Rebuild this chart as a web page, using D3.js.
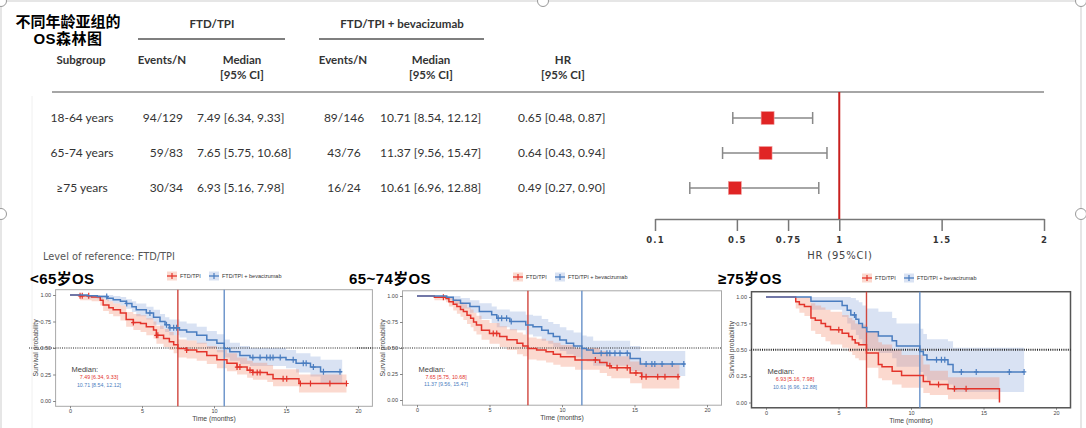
<!DOCTYPE html>
<html><head><meta charset="utf-8">
<script src="https://cdn.jsdelivr.net/npm/d3@7"></script>
<style>body{margin:0;background:#fff;}svg{display:block;}</style>
</head><body>
<svg id="chart" width="1086" height="428"></svg>
<script>
// ===================== DATA =====================
const subgroups   = ["18-64 years", "65-74 years", "≥75 years"];
const eventsFtd   = ["94/129", "59/83", "30/34"];
const medianFtd   = ["7.49 [6.34, 9.33]", "7.65 [5.75, 10.68]", "6.93 [5.16, 7.98]"];
const eventsBev   = ["89/146", "43/76", "16/24"];
const medianBev   = ["10.71 [8.54, 12.12]", "11.37 [9.56, 15.47]", "10.61 [6.96, 12.88]"];
const hrText      = ["0.65 [0.48, 0.87]", "0.64 [0.43, 0.94]", "0.49 [0.27, 0.90]"];
const hrEst       = [0.65, 0.64, 0.49];
const hrLow       = [0.48, 0.43, 0.27];
const hrHigh      = [0.87, 0.94, 0.90];
const hrTicks     = [0.1, 0.5, 0.75, 1, 1.5, 2];
const hrTickLabels= ["0.1", "0.5", "0.75", "1", "1.5", "2"];

const kmTitles    = ["<65岁OS", "65~74岁OS", "≥75岁OS"];
const armLabels   = ["FTD/TPI", "FTD/TPI + bevacizumab"];
const kmXTicks    = [0, 5, 10, 15, 20];
const kmYTicks    = [0, 0.25, 0.5, 0.75, 1];
const medianFtdMonths = [7.49, 7.65, 6.93];
const medianBevMonths = [10.71, 11.37, 10.61];

// KM steps: [time (months), survival, lower 95% CI, upper 95% CI]
const km1Ftd = [
 [0,1,1,1],[0.7,0.992,0.95,1],[1.5,0.98,0.94,1],[2.1,0.95,0.90,0.99],[2.3,0.905,0.85,0.96],
 [2.7,0.88,0.82,0.94],[3.0,0.86,0.80,0.92],[3.5,0.83,0.76,0.90],[3.9,0.77,0.70,0.84],
 [4.4,0.74,0.67,0.82],[4.9,0.73,0.65,0.81],[5.3,0.70,0.62,0.78],[5.8,0.67,0.59,0.75],
 [6.0,0.62,0.54,0.71],[6.5,0.59,0.51,0.68],[6.9,0.56,0.48,0.65],[7.2,0.53,0.45,0.62],
 [7.49,0.495,0.41,0.58],[8.1,0.48,0.40,0.57],[8.8,0.465,0.38,0.55],[9.5,0.43,0.35,0.52],
 [10.2,0.39,0.31,0.48],[10.9,0.355,0.28,0.45],[11.6,0.32,0.25,0.41],[12.3,0.29,0.22,0.38],
 [12.7,0.27,0.20,0.36],[13.7,0.25,0.18,0.34],[14.1,0.21,0.14,0.30],[15.9,0.165,0.08,0.25],
 [19.2,0.165,0.08,0.25]];
const km1FtdCensor = [0.7,0.85,1.3,4.4,6.0,6.1,8.1,11.6,11.8,12.5,12.7,13.0,13.2,14.8,15.05,16.0,16.7,18.05,19.2];
const km1Bev = [
 [0,1,1,1],[1.2,0.993,0.97,1],[1.9,0.985,0.96,1],[2.6,0.97,0.94,1],[3.0,0.955,0.92,0.99],
 [3.5,0.94,0.90,0.98],[3.9,0.92,0.87,0.96],[4.3,0.89,0.84,0.94],[4.6,0.86,0.80,0.92],
 [5.3,0.83,0.77,0.89],[5.8,0.79,0.72,0.86],[6.25,0.75,0.68,0.82],[6.6,0.72,0.65,0.79],
 [6.9,0.69,0.62,0.77],[7.6,0.67,0.60,0.75],[8.1,0.65,0.57,0.73],[8.8,0.62,0.54,0.70],
 [9.5,0.575,0.50,0.66],[10.2,0.545,0.46,0.63],[10.71,0.495,0.41,0.58],[11.1,0.465,0.38,0.55],
 [11.8,0.43,0.35,0.52],[12.5,0.41,0.33,0.50],[15.0,0.39,0.31,0.48],[15.7,0.355,0.27,0.45],
 [16.7,0.32,0.23,0.42],[17.4,0.277,0.17,0.39],[18.9,0.277,0.17,0.39]];
const km1BevCensor = [2.55,3.94,5.55,6.7,6.94,7.2,7.4,12.7,13.2,13.66,13.9,14.1,14.6,15.5,16.2,16.4,16.9,17.6,18.75];

const km2Ftd = [
 [0,1,1,1],[1.2,0.987,0.96,1],[2.0,0.975,0.94,1],[2.2,0.945,0.90,0.99],[2.5,0.92,0.86,0.97],
 [2.75,0.90,0.83,0.96],[3.0,0.87,0.80,0.94],[3.2,0.85,0.77,0.92],[3.45,0.815,0.73,0.89],
 [3.7,0.785,0.70,0.87],[3.9,0.75,0.66,0.84],[4.1,0.72,0.63,0.81],[4.45,0.67,0.58,0.77],
 [5.0,0.64,0.54,0.74],[5.7,0.61,0.51,0.71],[6.2,0.58,0.48,0.68],[6.9,0.545,0.44,0.65],
 [7.3,0.52,0.42,0.63],[7.65,0.495,0.39,0.60],[8.25,0.48,0.38,0.59],[8.9,0.465,0.36,0.57],
 [9.4,0.44,0.34,0.55],[9.9,0.417,0.32,0.53],[10.9,0.385,0.29,0.50],[12.6,0.36,0.26,0.47],
 [13.1,0.33,0.23,0.44],[13.4,0.31,0.21,0.42],[14.7,0.26,0.16,0.37],[15.5,0.224,0.11,0.34],
 [18.1,0.224,0.11,0.34]];
const km2FtdCensor = [1.82,5.26,5.5,12.3,13.3,13.8,14.5,15.1,15.5,15.8,16.6,17.1,18.0];
const km2Bev = [
 [0,1,1,1],[2.05,0.987,0.96,1],[2.5,0.96,0.92,1],[3.0,0.93,0.88,0.98],[3.65,0.90,0.84,0.96],
 [4.3,0.85,0.78,0.93],[5.15,0.82,0.74,0.90],[5.5,0.785,0.70,0.87],[6.4,0.755,0.67,0.85],
 [7.5,0.72,0.63,0.82],[8.0,0.705,0.61,0.81],[8.6,0.67,0.57,0.78],[9.05,0.64,0.54,0.75],
 [9.4,0.61,0.51,0.73],[9.85,0.577,0.47,0.70],[10.3,0.545,0.44,0.67],[10.8,0.52,0.41,0.65],
 [11.37,0.495,0.39,0.62],[11.7,0.48,0.37,0.61],[12.15,0.45,0.33,0.57],[14.7,0.40,0.28,0.52],
 [15.4,0.346,0.23,0.47],[18.5,0.346,0.23,0.47]];
const km2BevCensor = [5.6,5.84,6.18,6.5,12.7,13.1,13.3,13.65,14.0,14.5,15.8,16.2,16.4,16.9,17.6,18.4];

const km3Ftd = [
 [0,1,1,1],[2.05,0.956,0.89,1],[2.3,0.93,0.85,1],[2.65,0.909,0.82,1],[3.1,0.80,0.68,0.94],
 [3.4,0.78,0.65,0.92],[3.8,0.75,0.62,0.90],[4.1,0.72,0.58,0.88],[4.45,0.69,0.55,0.86],
 [5.25,0.657,0.52,0.83],[5.7,0.626,0.48,0.80],[5.95,0.594,0.45,0.78],[6.15,0.563,0.42,0.75],
 [6.4,0.547,0.40,0.74],[6.93,0.47,0.33,0.67],[7.75,0.36,0.23,0.57],[8.0,0.34,0.21,0.55],
 [8.7,0.296,0.17,0.50],[9.35,0.255,0.14,0.45],[10.85,0.20,0.09,0.36],[11.3,0.17,0.07,0.30],
 [12.55,0.13,0.03,0.24],[16.1,0,0,0]];
const km3FtdCensor = [5.02,11.9,13.0,13.8];
const km3Bev = [
 [0,1,1,1],[3.1,0.96,0.88,1],[5.25,0.92,0.81,1],[5.6,0.875,0.75,1],[5.85,0.83,0.69,0.99],
 [6.2,0.79,0.64,0.97],[6.4,0.75,0.60,0.95],[6.65,0.71,0.55,0.92],[6.95,0.67,0.51,0.89],
 [7.75,0.63,0.47,0.86],[8.7,0.585,0.42,0.80],[9.0,0.535,0.34,0.75],[10.61,0.484,0.29,0.70],
 [10.85,0.45,0.25,0.65],[11.1,0.405,0.21,0.60],[12.55,0.36,0.17,0.58],[12.9,0.29,0.10,0.52],
 [17.8,0.29,0.10,0.52]];
const km3BevCensor = [6.1,11.76,12.1,12.33,13.47,14.5,16.78,17.8];

// ===================== LAYOUT / STYLE =====================
const RED = "#E3342B", BLUE = "#4A7DC0";
const RED_BAND = "rgba(242,140,110,0.33)", BLUE_BAND = "rgba(130,160,215,0.30)";
const TABLE_FONT = "Lato, 'Open Sans', sans-serif";
const KM_FONT = "'Liberation Sans', Arial, sans-serif";
const TITLE_FONT = "'Liberation Sans', 'Noto Sans CJK SC', sans-serif";

const svg = d3.select("#chart");

// outer frame & handles
svg.append("rect").attr("x",1).attr("y",1).attr("width",1080).attr("height",470)
  .attr("rx",6).attr("fill","none").attr("stroke","#cdcdcd").attr("stroke-width",1);
svg.append("line").attr("x1",32).attr("x2",32).attr("y1",96).attr("y2",428)
  .attr("stroke","#f0f0f0").attr("stroke-width",1);
[[1,1],[543,1],[1081,1],[1,214],[1081,214]].forEach(p=>{
  svg.append("circle").attr("cx",p[0]).attr("cy",p[1]).attr("r",5.5)
    .attr("fill","#fff").attr("stroke","#999").attr("stroke-width",1);
});

// ---------- Chinese title ----------
const tt = svg.append("text").attr("font-family",TITLE_FONT)
  .attr("font-weight","bold").attr("font-size",15).attr("fill","#000").attr("text-anchor","middle");
tt.append("tspan").attr("x",68).attr("y",27).text("不同年龄亚组的");
tt.append("tspan").attr("x",68).attr("y",44).attr("letter-spacing",0.5).text("OS森林图");

// ---------- table header ----------
function txt(x,y,s,opt={}){
  return svg.append("text").attr("x",x).attr("y",y).text(s)
    .attr("font-family",TABLE_FONT).attr("font-size",opt.size||12)
    .attr("font-weight",opt.weight||"normal").attr("fill",opt.fill||"#333")
    .attr("text-anchor",opt.anchor||"start");
}
const H = {weight:"bold", size:11.5, anchor:"middle", fill:"#333"};
txt(212,28,"FTD/TPI",H);
txt(402,28,"FTD/TPI + bevacizumab",H);
svg.append("line").attr("x1",138).attr("x2",285).attr("y1",39).attr("y2",39).attr("stroke","#555").attr("stroke-width",1.5);
svg.append("line").attr("x1",319).attr("x2",484).attr("y1",39).attr("y2",39).attr("stroke","#555").attr("stroke-width",1.5);
txt(81,64,"Subgroup",H);
txt(162,64,"Events/N",H);
txt(242,64,"Median",H);  txt(242,79,"[95% CI]",H);
txt(343,64,"Events/N",H);
txt(431,64,"Median",H);  txt(431,79,"[95% CI]",H);
txt(563,64,"HR",H);      txt(563,79,"[95% CI]",H);
svg.append("line").attr("x1",52).attr("x2",1044).attr("y1",92).attr("y2",92).attr("stroke","#888").attr("stroke-width",1.5);

// ---------- table rows ----------
const yRow = d3.scalePoint().domain(subgroups).range([118,188]);
subgroups.forEach((s,i)=>{
  const y = yRow(s)+4;
  txt(82,y,s,{anchor:"middle"});
  txt(183,y,eventsFtd[i],{anchor:"end"});
  txt(197,y,medianFtd[i]);
  txt(344,y,eventsBev[i],{anchor:"middle"});
  txt(380,y,medianBev[i]);
  txt(518,y,hrText[i]);
});

// ---------- forest plot ----------
const xHR = d3.scaleLinear().domain([0.1,2]).range([655,1044]);
const axHR = d3.axisBottom(xHR).tickValues(hrTicks).tickFormat((d,i)=>hrTickLabels[i])
  .tickSize(12).tickSizeOuter(0).tickPadding(6);
const gAx = svg.append("g").attr("transform","translate(0,219)").call(axHR);
gAx.select(".domain").attr("stroke","#777").attr("stroke-width",1.5);
gAx.selectAll(".tick line").attr("stroke","#777").attr("stroke-width",1.5);
gAx.selectAll(".tick text").attr("font-family","'DejaVu Sans', sans-serif").attr("font-weight","bold")
  .attr("font-size",8.5).attr("letter-spacing",1.2).attr("fill","#333");
svg.append("text").attr("x",840).attr("y",259).attr("text-anchor","middle")
  .attr("font-family","'DejaVu Sans', sans-serif").attr("font-size",10).attr("letter-spacing",0.8)
  .attr("fill","#444").text("HR (95%CI)");
svg.append("line").attr("x1",xHR(1)).attr("x2",xHR(1)).attr("y1",92).attr("y2",219)
  .attr("stroke","#C8201E").attr("stroke-width",2);
subgroups.forEach((s,i)=>{
  const y = yRow(s);
  const g = svg.append("g");
  g.append("line").attr("x1",xHR(hrLow[i])).attr("x2",xHR(hrHigh[i])).attr("y1",y).attr("y2",y)
    .attr("stroke","#888").attr("stroke-width",1.5);
  [hrLow[i],hrHigh[i]].forEach(v=>g.append("line").attr("x1",xHR(v)).attr("x2",xHR(v))
    .attr("y1",y-6).attr("y2",y+6).attr("stroke","#888").attr("stroke-width",1.5));
  g.append("rect").attr("x",xHR(hrEst[i])-6.5).attr("y",y-6.5).attr("width",13).attr("height",13)
    .attr("fill","#E02424").attr("stroke","#f0a0a0").attr("stroke-width",0.6);
});

svg.append("text").attr("x",43).attr("y",260).attr("font-family","'DejaVu Sans', sans-serif")
  .attr("font-size",9.8).attr("fill","#555").text("Level of reference: FTD/TPI");

// ---------- KM panels ----------
const panelLayout = [
  {x0:70,  ppm:14.4, y1:295, y0:401,   titleX:30,  legendX:172, legendY:276, dotFrom:29,  frame:"#a8a8a8", frameW:1,   dotW:1.1},
  {x0:417, ppm:14.5, y1:296, y0:400,   titleX:349, legendX:518, legendY:277, dotFrom:357, frame:"#a8a8a8", frameW:1,   dotW:1.1},
  {x0:766, ppm:14.5, y1:297, y0:402.5, titleX:718, legendX:867, legendY:278, dotFrom:751, frame:"#555",    frameW:1.5, dotW:2}
];
const kmData = [
  [km1Ftd, km1FtdCensor, km1Bev, km1BevCensor],
  [km2Ftd, km2FtdCensor, km2Bev, km2BevCensor],
  [km3Ftd, km3FtdCensor, km3Bev, km3BevCensor]
];

function survAt(steps,t){ let s=steps[0][1]; for(const d of steps){ if(d[0]<=t) s=d[1]; } return s; }

panelLayout.forEach((L,pi)=>{
  const [ftd,ftdC,bev,bevC] = kmData[pi];
  const x = d3.scaleLinear().domain([-1,21]).range([L.x0-L.ppm, L.x0+21*L.ppm]);
  const h = L.y0-L.y1;
  const y = d3.scaleLinear().domain([-0.05,1.05]).range([L.y0+0.05*h, L.y1-0.05*h]);
  const g = svg.append("g");
  const left=x(-1), right=x(21), top=y(1.05), bottom=y(-0.05);

  // title
  g.append("text").attr("x",L.titleX).attr("y",284).attr("font-family",TITLE_FONT)
    .attr("font-weight","bold").attr("font-size",15).attr("fill","#000").attr("letter-spacing",0.4).text(kmTitles[pi]);

  // legend
  [[RED,RED_BAND,armLabels[0],0],[BLUE,BLUE_BAND,armLabels[1],42]].forEach(([c,b,lab,dx])=>{
    const cx=L.legendX+dx, cy=L.legendY;
    g.append("rect").attr("x",cx-5).attr("y",cy-4.5).attr("width",10).attr("height",9).attr("fill",b);
    g.append("line").attr("x1",cx-5).attr("x2",cx+5).attr("y1",cy).attr("y2",cy).attr("stroke",c).attr("stroke-width",1.3);
    g.append("line").attr("x1",cx).attr("x2",cx).attr("y1",cy-3).attr("y2",cy+3).attr("stroke",c).attr("stroke-width",1.2);
    g.append("text").attr("x",cx+8).attr("y",cy+2).attr("font-family",KM_FONT).attr("font-size",5.5)
      .attr("fill","#333").text(lab);
  });

  // bands
  const area = d3.area().x(d=>x(d[0])).y0(d=>y(d[2])).y1(d=>y(d[3])).curve(d3.curveStepAfter);
  g.append("path").datum(bev).attr("d",area).attr("fill",BLUE_BAND);
  g.append("path").datum(ftd).attr("d",area).attr("fill",RED_BAND);

  // frame
  g.append("rect").attr("x",left).attr("y",top).attr("width",right-left).attr("height",bottom-top)
    .attr("fill","none").attr("stroke",L.frame).attr("stroke-width",L.frameW);

  // median lines
  g.append("line").attr("x1",x(medianFtdMonths[pi])).attr("x2",x(medianFtdMonths[pi]))
    .attr("y1",top).attr("y2",bottom).attr("stroke","#D0463E").attr("stroke-width",1.4);
  g.append("line").attr("x1",x(medianBevMonths[pi])).attr("x2",x(medianBevMonths[pi]))
    .attr("y1",top).attr("y2",bottom).attr("stroke","#6690C8").attr("stroke-width",1.4);
  // 0.5 dotted
  g.append("line").attr("x1",L.dotFrom).attr("x2",right).attr("y1",y(0.5)).attr("y2",y(0.5))
    .attr("stroke","#222").attr("stroke-width",L.dotW).attr("stroke-dasharray","1,1.2");

  // curves
  const line = d3.line().x(d=>x(d[0])).y(d=>y(d[1])).curve(d3.curveStepAfter);
  [[ftd,ftdC,RED],[bev,bevC,BLUE]].forEach(([st,cs,c])=>{
    g.append("path").datum(st).attr("d",line).attr("fill","none").attr("stroke",c).attr("stroke-width",1.5);
    cs.forEach(t=>{
      const px=x(t), py=y(survAt(st,t));
      g.append("path").attr("d",`M${px},${py-3}V${py+3}M${px-2.2},${py}H${px+2.2}`)
        .attr("stroke",c).attr("stroke-width",1.2).attr("fill","none");
    });
  });

  // axes
  const ax = g.append("g").attr("transform",`translate(0,${bottom})`)
    .call(d3.axisBottom(x).tickValues(kmXTicks).tickSize(2).tickPadding(1));
  const ay = g.append("g").attr("transform",`translate(${left},0)`)
    .call(d3.axisLeft(y).tickValues(kmYTicks).tickFormat(d3.format(".2f")).tickSize(2.5).tickPadding(2));
  [ax,ay].forEach(a=>{
    a.select(".domain").remove();
    a.selectAll(".tick line").attr("stroke","#666").attr("stroke-width",0.8);
    a.selectAll(".tick text").attr("font-family",KM_FONT).attr("font-size",5.5).attr("fill","#444");
  });
  g.append("text").attr("x",x(10)).attr("y",bottom+15).attr("text-anchor","middle")
    .attr("font-family",KM_FONT).attr("font-size",6.8).attr("fill","#444").text("Time (months)");
  g.append("text").attr("transform",`translate(${left-18},${y(0.5)}) rotate(-90)`).attr("text-anchor","middle")
    .attr("font-family",KM_FONT).attr("font-size",6.8).attr("fill","#444").text("Survival probability");

  // median annotation
  g.append("text").attr("x",x(0)+1.5).attr("y",y(0.27)).attr("font-family",KM_FONT)
    .attr("font-size",7.5).attr("fill","#444").text("Median:");
  g.append("text").attr("x",x(0)+29).attr("y",y(0.205)).attr("text-anchor","middle").attr("font-family",KM_FONT)
    .attr("font-size",5.3).attr("fill",RED).text(medianFtd[pi]);
  g.append("text").attr("x",x(0)+29).attr("y",y(0.13)).attr("text-anchor","middle").attr("font-family",KM_FONT)
    .attr("font-size",5.3).attr("fill",BLUE).text(medianBev[pi]);
});
</script>
</body></html>
